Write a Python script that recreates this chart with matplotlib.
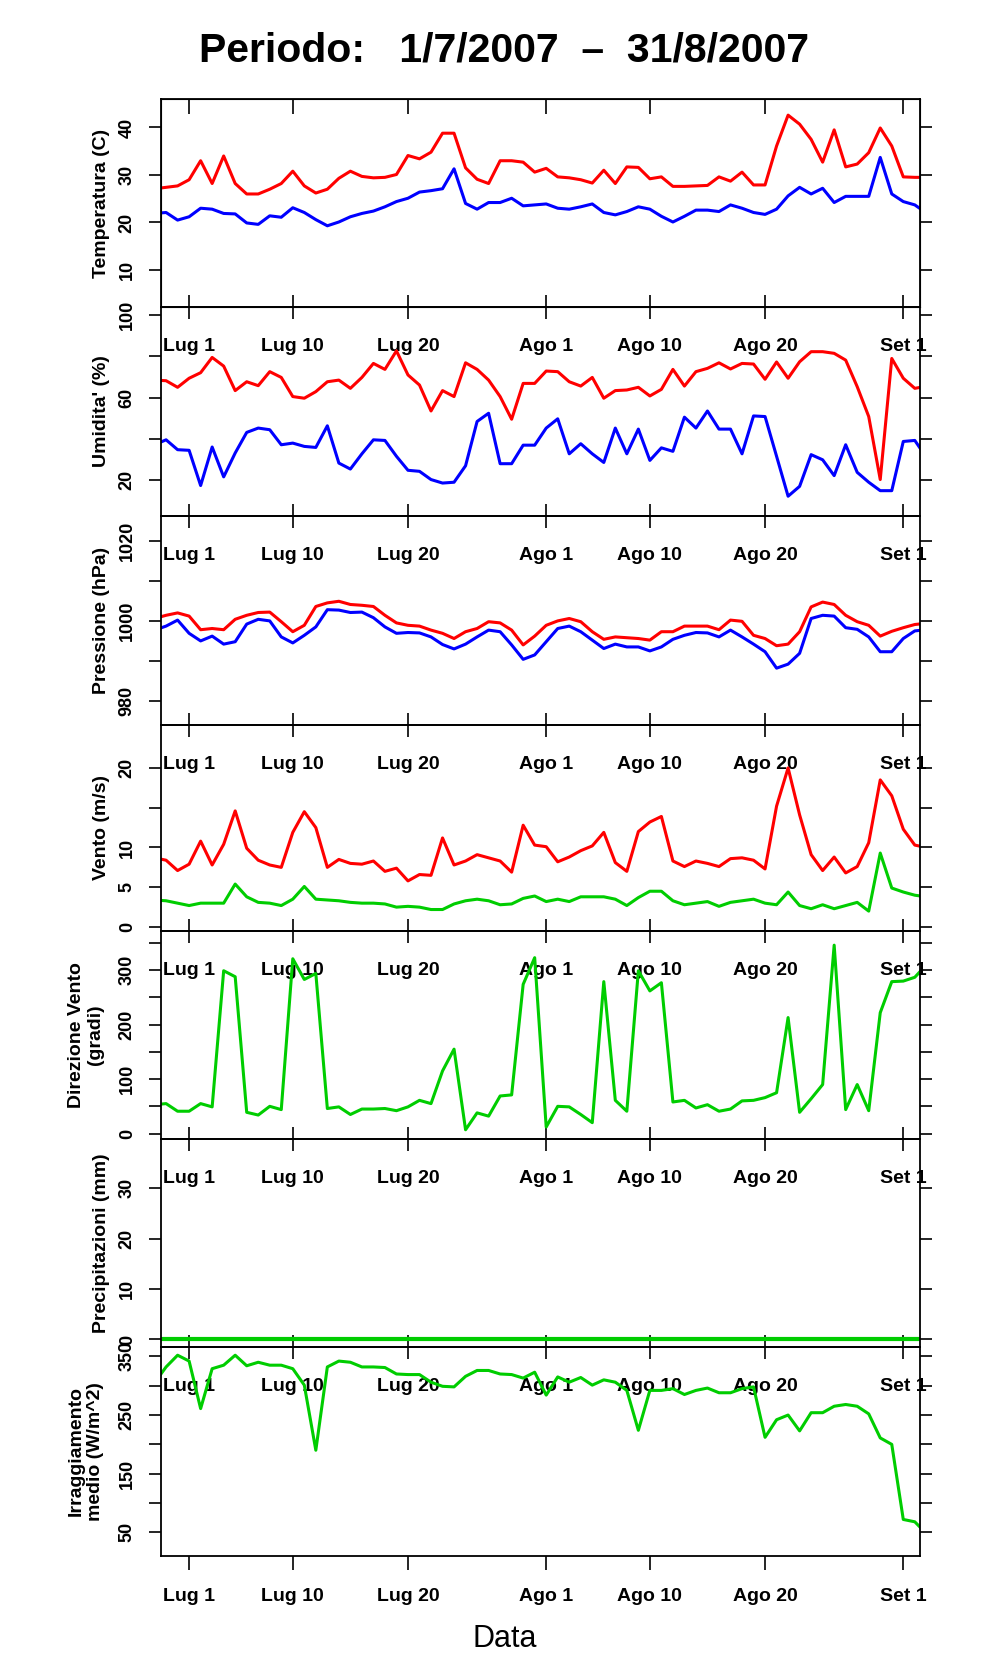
import matplotlib
matplotlib.use("Agg")
import matplotlib.pyplot as plt
import pandas as pd

plt.rcParams['font.family'] = ['Liberation Sans', 'DejaVu Sans']

# daily values, 28/6/2007 - 3/9/2007 (the plot window cuts the first and last day)
dates = pd.date_range("2007-06-28", periods=68, freq="D")

temp_max = [27.1, 27.4, 27.7, 29.0, 33.0, 28.2, 34.0, 28.2, 26.0, 26.0, 27.0, 28.2,
            30.8, 27.7, 26.2, 27.0, 29.3, 30.8, 29.7, 29.4, 29.5, 30.1, 34.1, 33.4,
            34.8, 38.8, 38.8, 31.5, 29.1, 28.2, 33.0, 33.0, 32.7, 30.6, 31.4, 29.6,
            29.4, 29.0, 28.3, 31.0, 28.2, 31.7, 31.6, 29.2, 29.6, 27.6, 27.6, 27.7,
            27.8, 29.6, 28.7, 30.6, 27.9, 27.9, 36.1, 42.6, 40.7, 37.5, 32.7, 39.5,
            31.7, 32.3, 34.7, 39.9, 36.1, 29.6, 29.5, 29.5]
temp_min = [21.9, 22.1, 20.5, 21.2, 23.0, 22.8, 21.9, 21.8, 19.9, 19.6, 21.4, 21.1,
            23.1, 22.1, 20.6, 19.3, 20.1, 21.2, 21.9, 22.4, 23.3, 24.4, 25.1, 26.4,
            26.7, 27.1, 31.3, 24.0, 22.8, 24.2, 24.2, 25.1, 23.5, 23.7, 23.9, 23.0,
            22.8, 23.3, 23.9, 22.1, 21.6, 22.3, 23.3, 22.8, 21.3, 20.1, 21.3, 22.6,
            22.6, 22.3, 23.7, 23.0, 22.1, 21.7, 22.8, 25.6, 27.4, 26.0, 27.2, 24.2,
            25.5, 25.5, 25.5, 33.7, 26.0, 24.4, 23.7, 22.0]

hum_max = [68.5, 68.2, 65.0, 69.4, 72.1, 79.5, 75.3, 63.4, 67.7, 65.8, 72.6, 69.8,
           60.5, 59.7, 62.9, 67.7, 68.5, 64.5, 69.8, 76.6, 73.7, 82.7, 71.0, 66.1,
           53.5, 63.4, 60.5, 76.9, 73.7, 68.5, 60.5, 49.5, 66.9, 66.9, 72.9, 72.6,
           67.7, 65.6, 69.8, 59.7, 63.4, 63.7, 65.0, 60.8, 64.0, 73.7, 65.6, 72.6,
           74.2, 76.9, 73.9, 76.6, 76.3, 68.9, 77.3, 69.4, 77.4, 82.3, 82.3, 81.5,
           78.2, 65.3, 50.8, 20.2, 79.0, 69.4, 64.5, 65.5]
hum_min = [37.1, 39.5, 34.7, 34.4, 17.3, 36.0, 21.5, 33.1, 43.1, 45.2, 44.4, 37.1,
           37.9, 36.3, 35.8, 46.3, 28.2, 25.3, 32.7, 39.5, 39.2, 31.5, 24.7, 24.2,
           20.2, 18.5, 18.9, 26.9, 48.4, 52.4, 27.9, 27.9, 36.9, 36.9, 45.2, 49.7,
           32.7, 37.6, 32.7, 28.5, 45.2, 32.7, 44.7, 29.5, 35.6, 33.9, 50.5, 45.2,
           53.5, 44.7, 44.7, 32.7, 51.1, 50.8, 31.5, 12.1, 16.9, 32.3, 29.8, 22.1,
           37.1, 23.7, 18.9, 14.8, 14.8, 38.7, 39.2, 31.0]

pres_max = [1000.6, 1001.4, 1002.0, 1001.2, 997.8, 998.1, 997.8, 1000.4, 1001.4, 1002.1,
            1002.2, 999.8, 997.3, 998.9, 1003.6, 1004.5, 1004.9, 1004.1, 1003.9, 1003.6,
            1001.4, 999.5, 998.9, 998.7, 997.7, 996.9, 995.6, 997.3, 998.1, 999.8,
            999.5, 997.7, 994.0, 996.2, 998.9, 1000.0, 1000.6, 999.8, 997.3, 995.4,
            996.0, 995.8, 995.6, 995.2, 997.3, 997.3, 998.7, 998.7, 998.7, 997.8,
            1000.2, 999.9, 996.4, 995.6, 993.8, 994.2, 997.3, 1003.5, 1004.7, 1004.1,
            1001.4, 999.8, 998.9, 996.2, 997.4, 998.3, 999.1, 999.4]
pres_min = [997.7, 998.7, 1000.2, 996.9, 995.0, 996.2, 994.2, 994.8, 999.2, 1000.4,
            1000.0, 996.0, 994.5, 996.4, 998.5, 1002.8, 1002.7, 1002.1, 1002.2, 1000.8,
            998.5, 996.9, 997.1, 997.0, 996.0, 994.1, 993.0, 994.2, 996.0, 997.7,
            997.3, 994.0, 990.4, 991.5, 994.8, 998.1, 998.7, 997.3, 995.2, 993.1,
            994.2, 993.5, 993.5, 992.5, 993.5, 995.4, 996.4, 997.1, 997.0, 996.0,
            997.7, 996.0, 994.2, 992.3, 988.2, 989.2, 991.9, 1000.6, 1001.4, 1001.2,
            998.3, 997.9, 996.0, 992.3, 992.3, 995.6, 997.5, 997.8]

wind_max = [8.7, 8.4, 7.1, 7.9, 10.8, 7.8, 10.4, 14.6, 9.9, 8.4, 7.8, 7.5,
            11.9, 14.5, 12.5, 7.5, 8.5, 8.0, 7.9, 8.3, 7.0, 7.4, 5.8, 6.6,
            6.5, 11.2, 7.8, 8.3, 9.1, 8.7, 8.3, 6.9, 12.8, 10.3, 10.1, 8.2,
            8.8, 9.6, 10.2, 11.9, 8.1, 7.0, 12.0, 13.2, 13.9, 8.3, 7.6, 8.3,
            8.0, 7.6, 8.6, 8.7, 8.4, 7.3, 15.2, 20.0, 14.1, 9.1, 7.1, 8.8,
            6.8, 7.6, 10.6, 18.5, 16.5, 12.3, 10.3, 10.0]
wind_avg = [3.4, 3.3, 3.0, 2.7, 3.0, 3.0, 3.0, 5.4, 3.8, 3.1, 3.0, 2.7,
            3.5, 5.1, 3.5, 3.4, 3.3, 3.1, 3.0, 3.0, 2.9, 2.5, 2.6, 2.5,
            2.2, 2.2, 2.9, 3.3, 3.5, 3.3, 2.8, 2.9, 3.6, 3.9, 3.2, 3.5,
            3.2, 3.8, 3.8, 3.8, 3.5, 2.7, 3.7, 4.5, 4.5, 3.3, 2.8, 3.0,
            3.2, 2.6, 3.1, 3.3, 3.5, 3.0, 2.8, 4.4, 2.7, 2.3, 2.8, 2.3,
            2.7, 3.1, 2.0, 9.3, 4.9, 4.4, 4.0, 3.8]

wind_dir = [53, 55, 41, 41, 55, 49, 299, 288, 39, 34, 50, 44,
            321, 283, 294, 46, 49, 35, 45, 45, 46, 42, 49, 61,
            55, 115, 155, 7, 38, 32, 69, 71, 274, 323, 12, 50,
            49, 35, 20, 279, 61, 41, 299, 262, 277, 58, 61, 47,
            53, 41, 45, 60, 61, 66, 75, 213, 39, 64, 90, 346,
            44, 90, 42, 222, 279, 280, 287, 310]

rain = [0, 0, 0, 0, 0, 0, 0, 0, 0, 0, 0, 0, 0, 0, 0, 0, 0,
        0, 0, 0, 0, 0, 0, 0, 0, 0, 0, 0, 0, 0, 0, 0, 0, 0,
        0, 0, 0, 0, 0, 0, 0, 0, 0, 0, 0, 0, 0, 0, 0, 0, 0,
        0, 0, 0, 0, 0, 0, 0, 0, 0, 0, 0, 0, 0, 0, 0, 0, 0]

irrad = [305, 332, 352, 342, 261, 329, 335, 352, 334, 340, 335, 335,
         329, 301, 190, 332, 342, 340, 332, 332, 331, 320, 319, 319,
         306, 299, 298, 316, 326, 326, 320, 319, 313, 323, 284, 315,
         306, 314, 301, 310, 306, 292, 224, 292, 292, 295, 285, 292,
         296, 288, 288, 295, 298, 212, 242, 250, 223, 254, 254, 265,
         268, 265, 252, 211, 200, 72, 68, 48]

tick_dates = pd.to_datetime(["2007-07-01", "2007-07-10", "2007-07-20", "2007-08-01",
                             "2007-08-10", "2007-08-20", "2007-09-01"])
tick_labels = ["Lug 1", "Lug 10", "Lug 20", "Ago 1", "Ago 10", "Ago 20", "Set 1"]

RED, BLUE, GREEN = "#ff0000", "#0000ff", "#00cd00"

panels = [
    dict(lines=[(temp_max, RED), (temp_min, BLUE)], ylim=(2.2, 46),
         yticks=[10, 20, 30, 40], ylabels=["10", "20", "30", "40"],
         label="Temperatura (C)"),
    dict(lines=[(hum_max, RED), (hum_min, BLUE)], ylim=(2.5, 104),
         yticks=[20, 40, 60, 80, 100], ylabels=["20", "", "60", "", "100"],
         label="Umidita' (%)"),
    dict(lines=[(pres_max, RED), (pres_min, BLUE)], ylim=(974, 1026.2),
         yticks=[980, 990, 1000, 1010, 1020], ylabels=["980", "", "1000", "", "1020"],
         label="Pressione (hPa)"),
    dict(lines=[(wind_max, RED), (wind_avg, GREEN)], ylim=(-0.5, 25.4),
         yticks=[0, 5, 10, 15, 20], ylabels=["0", "5", "10", "", "20"],
         label="Vento (m/s)"),
    dict(lines=[(wind_dir, GREEN)], ylim=(-10, 372),
         yticks=[0, 50, 100, 150, 200, 250, 300, 350],
         ylabels=["0", "", "100", "", "200", "", "300", ""],
         label="Direzione Vento\n(gradi)"),
    dict(lines=[(rain, GREEN)], ylim=(-1.5, 39.8),
         yticks=[0, 10, 20, 30], ylabels=["0", "10", "20", "30"],
         label="Precipitazioni (mm)"),
    dict(lines=[(irrad, GREEN)], ylim=(9.7, 366),
         yticks=[50, 100, 150, 200, 250, 300, 350],
         ylabels=["50", "", "150", "", "250", "", "350"],
         label="Irraggiamento\nmedio (W/m^2)"),
]

# layout in pixels
W, H = 996, 1680
PT = 0.72
LEFT, RIGHT = 161, 920
edges = [99, 307, 516, 725, 931, 1139, 1347, 1556]
xlim = (pd.Timestamp("2007-06-28 13:25"), pd.Timestamp("2007-09-02 10:50"))

fig = plt.figure(figsize=(W / 100, H / 100), dpi=100)
fig.patch.set_facecolor("white")

for i, p in enumerate(panels):
    top, bot = edges[i], edges[i + 1]
    ax = fig.add_axes([LEFT / W, 1 - bot / H, (RIGHT - LEFT) / W, (bot - top) / H])
    ax.patch.set_visible(False)
    for spine in ax.spines.values():
        spine.set_linewidth(1.3)

    lw = 3 if p["label"].startswith("Precip") else 2.2
    for vals, col in p["lines"]:
        ax.plot(dates, vals, color=col, lw=lw)

    ax.set_xlim(*xlim)
    ax.set_ylim(*p["ylim"])

    ax.set_xticks(tick_dates)
    ax.set_xticklabels(tick_labels, fontsize=14, fontweight="bold")
    if i == len(panels) - 1:
        ax.tick_params(axis="x", direction="out", length=14 * PT, width=1.2, pad=13)
    else:
        ax.tick_params(axis="x", direction="inout", length=24 * PT, width=1.2, pad=14)

    ax.set_yticks(p["yticks"])
    ax.set_yticklabels(p["ylabels"], rotation=90, va="center",
                       fontsize=13, fontweight="bold")
    ax.tick_params(axis="y", direction="out", length=12 * PT, width=1.2, pad=9.5,
                   left=True, right=True)

    ax.set_ylabel(p["label"], fontsize=14, fontweight="bold")
    ax.yaxis.label.set_va("center")
    xc = 86 if "\n" in p["label"] else 101
    ax.yaxis.set_label_coords((xc - LEFT) / (RIGHT - LEFT), 0.5)

    if i == 0:
        axt = ax.twiny()
        axt.set_xlim(*xlim)
        axt.set_xticks(tick_dates)
        axt.set_xticklabels([])
        axt.tick_params(axis="x", direction="in", length=15 * PT, width=1.2)

fig.text(504 / W, 1 - 50 / H, "Periodo:   1/7/2007  \u2013  31/8/2007",
         ha="center", va="center", fontsize=29.5, fontweight="bold")
fig.text(505 / W, 1 - 1639 / H, "Data", ha="center", va="center", fontsize=22)

fig.savefig("out.png", dpi=100)
